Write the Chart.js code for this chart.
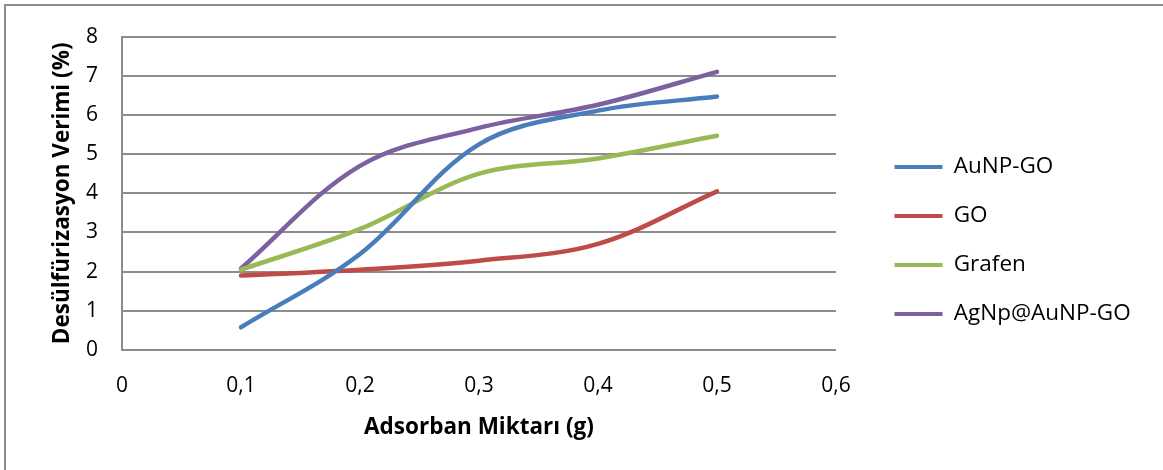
<!DOCTYPE html>
<html>
<head>
<meta charset="utf-8">
<script src="https://cdn.jsdelivr.net/npm/chart.js@4.4.1/dist/chart.umd.min.js"></script>
<style>
  html, body { margin: 0; padding: 0; background: #fff; }
  #wrap { position: relative; width: 1163px; height: 470px; overflow: hidden; }
  #frame { position: absolute; left: 4px; top: 4px; width: 1200px; height: 500px; border: 2px solid #8c8c8c; box-sizing: border-box; }
  canvas { position: absolute; left: 0; top: 0; }
</style>
</head>
<body>
<div id="wrap">
  <div id="frame"></div>
  <canvas id="c" width="1163" height="470"></canvas>
</div>
<script>
const xValues = [0.1, 0.2, 0.3, 0.4, 0.5];
const seriesNames = ['AuNP-GO', 'GO', 'Grafen', 'AgNp@AuNP-GO'];
const aunpGo = [0.58, 2.45, 5.25, 6.11, 6.47];
const go = [1.90, 2.05, 2.28, 2.71, 4.05];
const grafen = [2.05, 3.09, 4.50, 4.89, 5.47];
const agnpAunpGo = [2.08, 4.70, 5.67, 6.26, 7.10];
const xTitle = 'Adsorban Miktarı (g)';
const yTitle = 'Desülfürizasyon Verimi (%)';

const colors = ['#4A7EBB', '#BE4B48', '#98B954', '#7D60A0'];
const seriesValues = [aunpGo, go, grafen, agnpAunpGo];

const FONT = "'Open Sans', 'DejaVu Sans', sans-serif";

const datasets = seriesNames.map((name, i) => ({
  label: name,
  data: xValues.map((x, j) => ({ x: x, y: seriesValues[i][j] })),
  borderColor: colors[i],
  backgroundColor: colors[i],
  borderWidth: 4.5,
  pointRadius: 0,
  pointHoverRadius: 0,
  tension: 0.35,
  borderCapStyle: 'round',
  borderJoinStyle: 'round',
  fill: false
}));

const PLOT_LEFT = 122, PLOT_TOP = 35, PLOT_RIGHT = 836, PLOT_BOTTOM = 350;
const W = 1163, H = 470;

const legendPlacer = {
  id: 'legendPlacer',
  beforeLayout(chart) {
    const lg = chart.legend;
    if (lg && !lg._patched) {
      const origFit = lg.fit.bind(lg);
      lg.fit = function () { origFit(); this.width = W - PLOT_RIGHT; };
      lg._patched = true;
    }
  },
  afterLayout(chart) {
    const lg = chart.legend;
    if (!lg) return;
    const dx = 32, dy = -12;
    lg.left += dx; lg.right += dx;
    lg.top += dy; lg.bottom += dy;
  }
};

new Chart(document.getElementById('c'), {
  type: 'line',
  data: { datasets },
  plugins: [legendPlacer],
  options: {
    responsive: false,
    animation: false,
    events: [],
    layout: { padding: { top: PLOT_TOP, left: 0, right: 0, bottom: 0 } },
    plugins: {
      tooltip: { enabled: false },
      legend: {
        position: 'right',
        align: 'center',
        labels: {
          boxWidth: 48,
          boxHeight: 4,
          padding: 26.5,
          color: '#000',
          font: { family: FONT, size: 22.5 },
          generateLabels(chart) {
            return chart.data.datasets.map((ds, i) => ({
              text: ds.label,
              fillStyle: ds.borderColor,
              strokeStyle: ds.borderColor,
              lineWidth: 0,
              hidden: false,
              datasetIndex: i,
              fontColor: '#000'
            }));
          }
        }
      }
    },
    scales: {
      x: {
        type: 'linear',
        min: 0,
        max: 0.6,
        afterFit(s) { s.height = H - PLOT_BOTTOM; },
        grid: { display: false, drawTicks: false },
        border: { display: false },
        ticks: {
          stepSize: 0.1,
          padding: 23,
          color: '#000',
          font: { family: FONT, size: 21 },
          callback: (v) => (Math.round(v * 10) / 10).toString().replace('.', ',')
        },
        title: {
          display: true,
          text: xTitle,
          color: '#000',
          font: { family: FONT, size: 22.5, weight: 'bold' },
          padding: { top: 0, bottom: 28.5 }
        }
      },
      y: {
        min: 0,
        max: 8,
        afterFit(s) { s.width = PLOT_LEFT; },
        grid: { color: '#8c8c8c', lineWidth: 2, drawTicks: false },
        border: { display: true, color: '#8c8c8c', width: 2 },
        ticks: {
          stepSize: 1,
          padding: 24,
          color: '#000',
          font: { family: FONT, size: 21 }
        },
        title: {
          display: true,
          text: yTitle,
          color: '#000',
          font: { family: FONT, size: 22.5, weight: 'bold' },
          padding: { top: 49.5, bottom: 0 }
        }
      }
    }
  }
});
</script>
</body>
</html>
